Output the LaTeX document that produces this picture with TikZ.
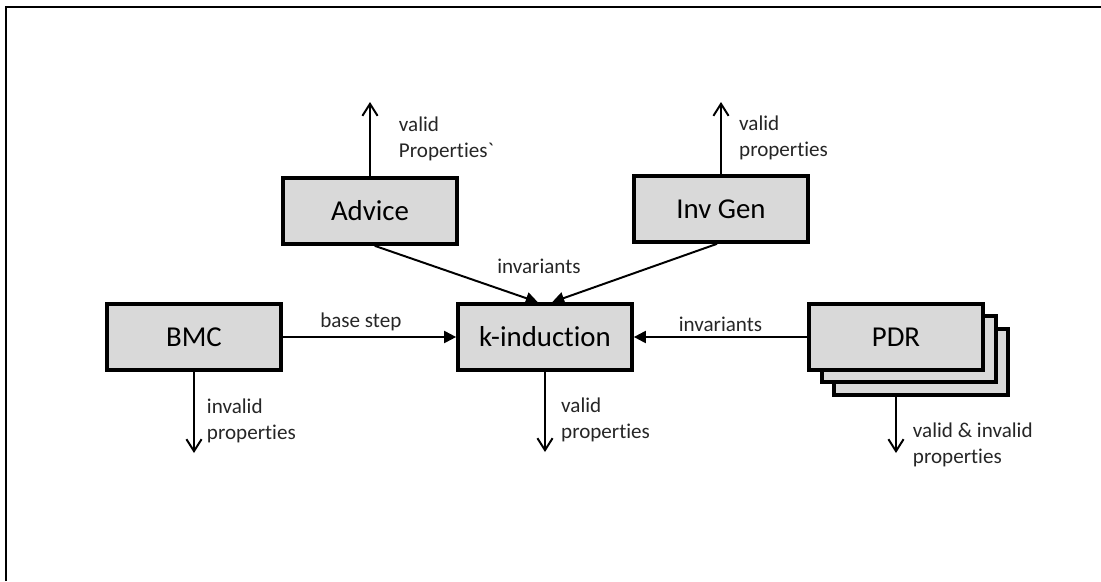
\documentclass[tikz,border=0pt]{standalone}
\usepackage{fontspec}
\setmainfont{Carlito}[Ligatures={NoCommon}]
\definecolor{boxgray}{RGB}{217, 217, 217}
\definecolor{labelgray}{RGB}{38, 38, 38}
\usetikzlibrary{arrows.meta, positioning}

\begin{document}
\begin{tikzpicture}[x=0.025cm, y=-0.025cm,
  engine/.style={draw, line width=2.6pt, fill=boxgray, minimum width=4.35cm, minimum height=1.65cm, font=\fontsize{20.5}{24}\selectfont},
  lbl/.style={font=\fontsize{15}{18.5}\selectfont, text=labelgray, align=left, inner sep=0pt},
  result/.style={line width=1.4pt, -{Straight Barb[length=0.3cm, width=0.38cm]}},
  feed/.style={line width=1.4pt, -{Triangle[length=0.3cm, width=0.3cm]}}]

  \useasboundingbox (0,0) rectangle (1101,581);
  % frame
  \draw[line width=1.4pt] (6,581) -- (6,7) -- (1101,7);

  % engines
  \node[engine] (advice) at (370, 211) {Advice};
  \node[engine] (invgen) at (721, 209) {Inv Gen};
  \node[engine] (bmc) at (194, 337) {BMC};
  \node[engine] (kind) at (545, 337) {k-induction};
  % PDR stack
  \node[engine] (pdr3) at (921, 362) {};
  \node[engine] (pdr2) at (909, 349) {};
  \node[engine] (pdr) at (896, 337) {PDR};

  % outputs
  \coordinate (adviceout) at (370, 102);
  \coordinate (invgenout) at (721, 102);
  \coordinate (bmcout) at (194, 453);
  \coordinate (kindout) at (545, 452);
  \coordinate (pdrout) at (896, 453);

  \draw[result] (advice.north) -- (adviceout)
    node[lbl, midway, right=0.7cm] {valid\\Properties\textasciigrave};
  \draw[result] (invgen.north) -- (invgenout)
    node[lbl, midway, right=0.43cm] {valid\\properties};
  \draw[result] (bmc.south) -- (bmcout)
    node[lbl, pos=0.6, right=0.3cm] {invalid\\properties};
  \draw[result] (kind.south) -- (kindout)
    node[lbl, pos=0.6, right=0.38cm] {valid\\properties};
  \draw[result] (pdr.south |- pdr3.south) -- (pdrout)
    node[lbl, pos=0.85, right=0.4cm] {valid \& invalid\\properties};

  % feeds into k-induction
  \draw[feed] (bmc) -- (kind) node[lbl, pos=0.45, above=0.12cm] {base step};
  \draw[feed] (pdr) -- (kind) node[lbl, midway, above=0.12cm] {invariants};
  \draw[feed] ([xshift=0.12cm]advice.south) -- ([xshift=-0.18cm]kind.north);
  \draw[feed] ([xshift=-0.1cm]invgen.south) -- ([xshift=0.18cm]kind.north);
  \node[lbl] (invlabel) at (539, 266) {invariants};
\end{tikzpicture}
\end{document}
